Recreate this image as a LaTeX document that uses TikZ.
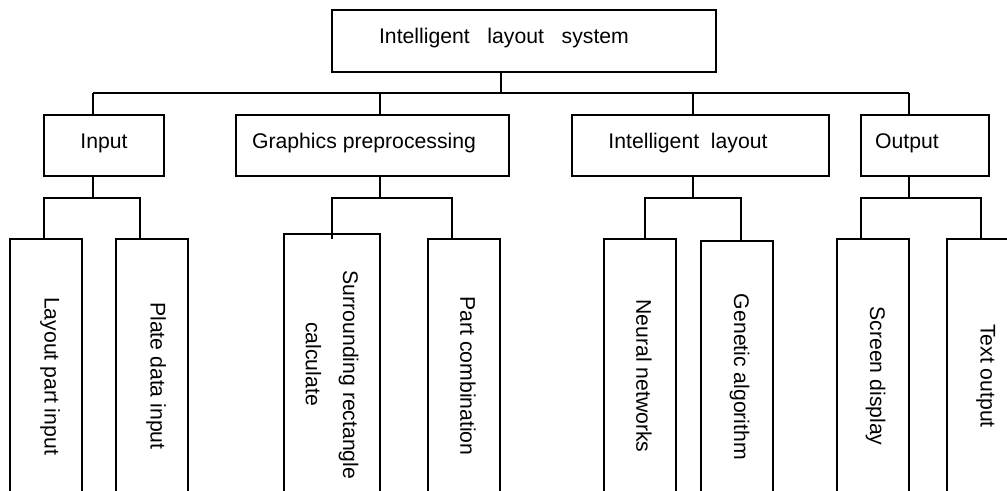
\documentclass[tikz,border=0pt]{standalone}
\usepackage{fontspec}
\setmainfont{Liberation Sans}
\tikzset{
  box/.style={draw, inner sep=0pt, outer sep=0pt},
  lab/.style={inner sep=0pt, font=\fontsize{15.9}{19}\selectfont},
  vlab/.style={lab, rotate=-90},
  modbox/.style={box, minimum height=45.75pt},
  subbox/.style={box, minimum width=54pt, minimum height=205.5pt},
}
\begin{document}
\begin{tikzpicture}[x=0.75pt,y=-0.75pt,line width=1.3pt]
\clip (0,0) rectangle (1007,490);

% root
\node[box, minimum width=288pt, minimum height=46.5pt] (sys) at (524,41) {};
\node[lab, anchor=base] (tsys) at (504,43.5) {Intelligent\ \ \ layout\ \ \ system};

% modules
\node[modbox, minimum width=90pt] (inp) at (104,145.5) {};
\node[modbox, minimum width=204.75pt] (gpp) at (372.5,145.5) {};
\node[modbox, minimum width=192.75pt] (ily) at (700.5,145.5) {};
\node[modbox, minimum width=96pt] (out) at (925,145.5) {};
\node[lab, anchor=base] (tinp) at (104,148) {Input};
\node[lab, anchor=base] (tgpp) at (364,148) {Graphics preprocessing};
\node[lab, anchor=base] (tily) at (688,148) {Intelligent\ \ layout};
\node[lab, anchor=base] (tout) at (907,148) {Output};

% sub-modules (tall boxes running off the bottom edge)
\node[subbox] (lpi) at (46,376) {};
\node[subbox] (pdi) at (152,376) {};
\node[subbox, minimum width=72pt, minimum height=209.25pt] (src) at (332,373.5) {};
\node[subbox] (pco) at (464,376) {};
\node[subbox] (nnw) at (640,376) {};
\node[subbox, minimum height=204pt] (gal) at (737,377) {};
\node[subbox] (scr) at (873,376) {};
\node[subbox] (txo) at (983,376) {};

\node[vlab] (tlpi) at ([xshift=3pt]lpi.center) {Layout part input};
\node[vlab] (tpdi) at ([xshift=3pt]pdi.center) {Plate data input};
\node[vlab, align=center, font=\fontsize{15.9}{28}\selectfont] (tsrc) at (332,375)
  {Surrounding rectangle\\calculate\rule{16.5pt}{0pt}};
\node[vlab] (tpco) at ([xshift=3pt]pco.center) {Part combination};
\node[vlab] (tnnw) at ([xshift=3pt]nnw.center) {Neural networks};
\node[vlab] (tgal) at ([xshift=2pt]gal.center) {Genetic algorithm};
\node[vlab] (tscr) at ([xshift=2pt]scr.center) {Screen display};
\node[vlab] (ttxo) at ([xshift=2pt]txo.center) {Text output};

% main bus
\coordinate (bus0) at (501,93);
\coordinate (busL) at (93,93);
\coordinate (busG) at (380,93);
\coordinate (busI) at (693,93);
\coordinate (busR) at (909,93);
\draw (sys.south -| bus0) -- (bus0);
\draw (busL) -- (busR);
\draw (busL) -- (inp.north -| busL);
\draw (busG) -- (gpp.north -| busG);
\draw (busI) -- (ily.north -| busI);
\draw (busR) -- (out.north -| busR);

% branch buses
\coordinate (sIn) at (93,198);
\coordinate (sInL) at (44,198);
\coordinate (sInR) at (140,198);
\draw (inp.south -| sIn) -- (sIn);
\draw (lpi.north -| sInL) -- (sInL) -- (sInR) -- (pdi.north -| sInR);

\coordinate (sGp) at (380,198);
\coordinate (sGpL) at (332,198);
\coordinate (sGpR) at (452,198);
\coordinate (dSrc) at (332,239);
\draw (gpp.south -| sGp) -- (sGp);
\draw (dSrc) -- (sGpL) -- (sGpR) -- (pco.north -| sGpR);

\coordinate (sIl) at (693,198);
\coordinate (sIlL) at (645,198);
\coordinate (sIlR) at (741,198);
\draw (ily.south -| sIl) -- (sIl);
\draw (nnw.north -| sIlL) -- (sIlL) -- (sIlR) -- (gal.north -| sIlR);

\coordinate (sOu) at (909,198);
\coordinate (sOuL) at (861,198);
\coordinate (sOuR) at (981,198);
\draw (out.south -| sOu) -- (sOu);
\draw (scr.north -| sOuL) -- (sOuL) -- (sOuR) -- (txo.north -| sOuR);
\end{tikzpicture}
\end{document}
